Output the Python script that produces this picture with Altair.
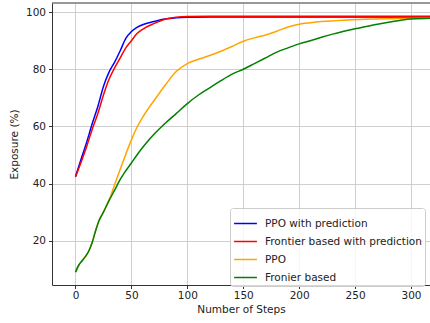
import altair as alt
import pandas as pd

series_names = ["PPO with prediction", "Frontier based with prediction", "PPO", "Fronier based"]
series_colors = ["#0000ff", "#ff0000", "#ffa500", "#008000"]

blue_x = [0, 5, 10, 15, 20, 25, 30, 35, 40, 45, 50, 55, 60, 70, 80, 90, 100, 120, 160, 200, 250, 300, 330]
blue_y = [42.5, 48.5, 54.5, 61, 67, 74, 79, 82.5, 86.5, 90.8, 93.2, 94.7, 95.6, 96.7, 97.6, 98.0, 98.2, 98.3, 98.3, 98.3, 98.3, 98.3, 98.3]

red_x = [0, 5, 10, 15, 20, 25, 30, 35, 40, 45, 50, 55, 60, 70, 80, 90, 100, 120, 160, 200, 250, 300, 330]
red_y = [42.3, 47.5, 53, 59, 64.5, 71, 76.5, 80.5, 84, 87.5, 90, 92.5, 94, 96, 97.5, 98.2, 98.5, 98.6, 98.6, 98.6, 98.6, 98.6, 98.6]

orange_x = [0, 3, 6, 9, 12, 15, 18, 21, 25, 28, 31, 35, 40, 45, 50, 55, 60, 65, 70, 80, 90, 100, 110, 120, 130, 140, 150, 160, 170, 180, 190, 200, 210, 220, 240, 260, 280, 300, 330]
orange_y = [9, 11.5, 13, 14.5, 16.5, 19.5, 23.5, 27, 30, 32.6, 35.2, 39.6, 45, 50.3, 55.3, 59.7, 63.2, 66.2, 68.9, 74.3, 79.2, 82, 83.5, 84.8, 86.3, 88, 89.8, 91, 92, 93.3, 94.8, 95.8, 96.3, 96.7, 97.2, 97.5, 97.7, 97.8, 97.9]

green_x = [0, 3, 6, 9, 12, 15, 18, 21, 25, 30, 35, 40, 45, 50, 55, 60, 65, 70, 80, 90, 100, 110, 120, 130, 140, 150, 160, 170, 180, 190, 200, 210, 220, 230, 240, 250, 260, 270, 280, 290, 300, 330]
green_y = [9, 11.5, 13, 14.5, 16.5, 19.5, 23.5, 27, 30, 34, 37.7, 41.5, 44.5, 47.2, 50, 52.6, 55, 57.2, 61, 64.5, 68, 71, 73.5, 76, 78.3, 80, 82, 84, 86, 87.5, 88.9, 90, 91.2, 92.3, 93.3, 94.2, 95, 95.8, 96.5, 97.1, 97.6, 98.0]

rows = []
for name, xs, ys in zip(series_names, [blue_x, red_x, orange_x, green_x], [blue_y, red_y, orange_y, green_y]):
    for i, (xv, yv) in enumerate(zip(xs, ys)):
        rows.append({"series": name, "step": xv, "exposure": yv, "order": i})
df = pd.DataFrame(rows)

x_ticks = [0, 50, 100, 150, 200, 250, 300]
y_ticks = [20, 40, 60, 80, 100]

W, H = 378, 282
FONT = "DejaVu Sans"
TXT = "#222222"
FS = 10.5

lines = alt.Chart(df).mark_line(strokeWidth=1.5, clip=True, interpolate="monotone").encode(
    x=alt.X("step:Q", title="Number of Steps",
            scale=alt.Scale(domain=[-21, 317], nice=False, zero=False),
            axis=alt.Axis(values=x_ticks, grid=True, tickSize=3.5, labelPadding=2,
                          titlePadding=3)),
    y=alt.Y("exposure:Q", title="Exposure (%)",
            scale=alt.Scale(domain=[4.5, 103.2], nice=False, zero=False),
            axis=alt.Axis(values=y_ticks, grid=True, tickSize=3.5, labelPadding=3,
                          titlePadding=6)),
    color=alt.Color("series:N", sort=series_names,
                    scale=alt.Scale(domain=series_names, range=series_colors),
                    legend=alt.Legend(title=None, orient="none", legendX=178, legendY=205,
                                      symbolType="stroke", symbolSize=520, symbolStrokeWidth=1.5,
                                      labelFont=FONT, labelFontSize=FS, labelColor=TXT,
                                      fillColor="rgba(255,255,255,0.8)", strokeColor="#cccccc",
                                      cornerRadius=3, padding=3, rowPadding=0, labelOffset=7,
                                      labelLimit=300)),
    order="order:Q",
)

top = alt.Chart(pd.DataFrame({"a": [0]})).mark_rule(color="#333333", strokeWidth=1).encode(
    x=alt.value(0), x2=alt.value(W), y=alt.value(0)
)

chart = alt.layer(lines, top).properties(
    width=W, height=H,
    padding={"left": 52, "top": 3, "right": 0, "bottom": 38},
    autosize=alt.AutoSizeParams(type="none"),
).configure_view(stroke=None).configure_axis(
    labelFont=FONT, titleFont=FONT, labelFontSize=FS, titleFontSize=FS,
    labelColor=TXT, titleColor=TXT, titleFontWeight="normal",
    domainColor="#333333", tickColor="#333333", gridColor="#cfcfcf", gridWidth=1,
)

chart.save("out.html", embed_options={"renderer": "svg", "actions": False})
